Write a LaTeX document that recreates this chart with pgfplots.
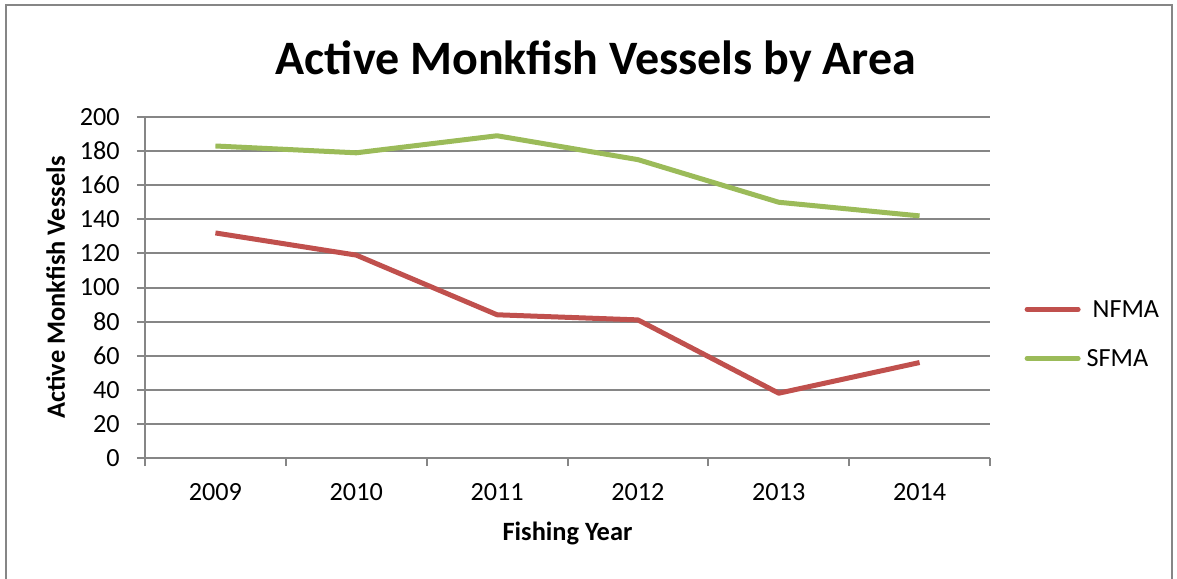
\documentclass[border=0pt]{standalone}
\usepackage{fontspec}
\setmainfont{Carlito}
\usepackage{pgfplots}
\pgfplotsset{compat=1.18}
\definecolor{nfma}{HTML}{C0504D}
\definecolor{sfma}{HTML}{9BBB59}
\definecolor{gridgray}{HTML}{868686}
\begin{document}
\begin{tikzpicture}
\useasboundingbox (0,0) rectangle (588.5pt,-289pt);
% chart frame (bottom edge falls below the page)
\draw[gridgray, line width=1pt] (3pt,-300pt) -- (3pt,-2.5pt) -- (586pt,-2.5pt) -- (586pt,-300pt);
\begin{axis}[
  scale only axis, width=422.5pt, height=170.5pt,
  at={(72.5pt,-229pt)}, anchor=south west,
  xmin=-0.5, xmax=5.5, ymin=0, ymax=200,
  axis x line*=bottom, axis y line*=left,
  axis line style={gridgray, line width=1pt, -},
  tick align=outside, major tick length=4pt,
  every tick/.style={gridgray, line width=1pt},
  xtick={0,...,5},
  xticklabels={2009,2010,2011,2012,2013,2014},
  xtick style={draw=none},
  extra x ticks={-0.5,0.5,1.5,2.5,3.5,4.5,5.5},
  extra x tick labels={},
  extra x tick style={grid=none, xtick style={draw=gridgray}},
  ytick={0,20,...,200},
  ymajorgrids,
  grid style={gridgray, line width=1pt},
  /pgf/number format/assume math mode=true,
  tick label style={font=\fontsize{13.1pt}{15pt}\selectfont},
  xticklabel style={anchor=base, yshift=-17pt},
  yticklabel style={anchor=east, inner sep=0pt, xshift=-8.5pt},
  title={Active Monkfish Vessels by Area},
  title style={font=\fontsize{24pt}{28pt}\selectfont\bfseries,
    at={(axis description cs:0.5337,1)}, anchor=base, yshift=15.5pt},
  xlabel={Fishing Year},
  xlabel style={font=\fontsize{13.2pt}{15pt}\selectfont\bfseries,
    at={(axis description cs:0.5,0)}, anchor=base, yshift=-41pt},
  ylabel={Active Monkfish Vessels},
  ylabel style={font=\fontsize{13.2pt}{15pt}\selectfont\bfseries,
    at={(axis description cs:-0.0947,0.5)}, anchor=base},
  legend image code/.code={\draw[#1, line cap=round] (0pt,0pt) -- (25.5pt,0pt);},
  legend style={draw=none, fill=none, inner sep=0pt, row sep=16.2pt, column sep=3pt,
    at={(axis description cs:1.0405,0.4613)}, anchor=north west,
    font=\fontsize{13.1pt}{15pt}\selectfont,
    nodes={inner sep=0pt, text height=8.3pt, text depth=0pt}},
  legend cell align=left,
]
\addplot[nfma, line width=2.5pt, line join=round] coordinates
  {(0,132) (1,119) (2,84) (3,81) (4,38) (5,56)};
\addlegendentry{\hspace{3pt}NFMA}
\addplot[sfma, line width=2.5pt, line join=round] coordinates
  {(0,183) (1,179) (2,189) (3,175) (4,150) (5,142)};
\addlegendentry{SFMA}
\end{axis}
\end{tikzpicture}
\end{document}
